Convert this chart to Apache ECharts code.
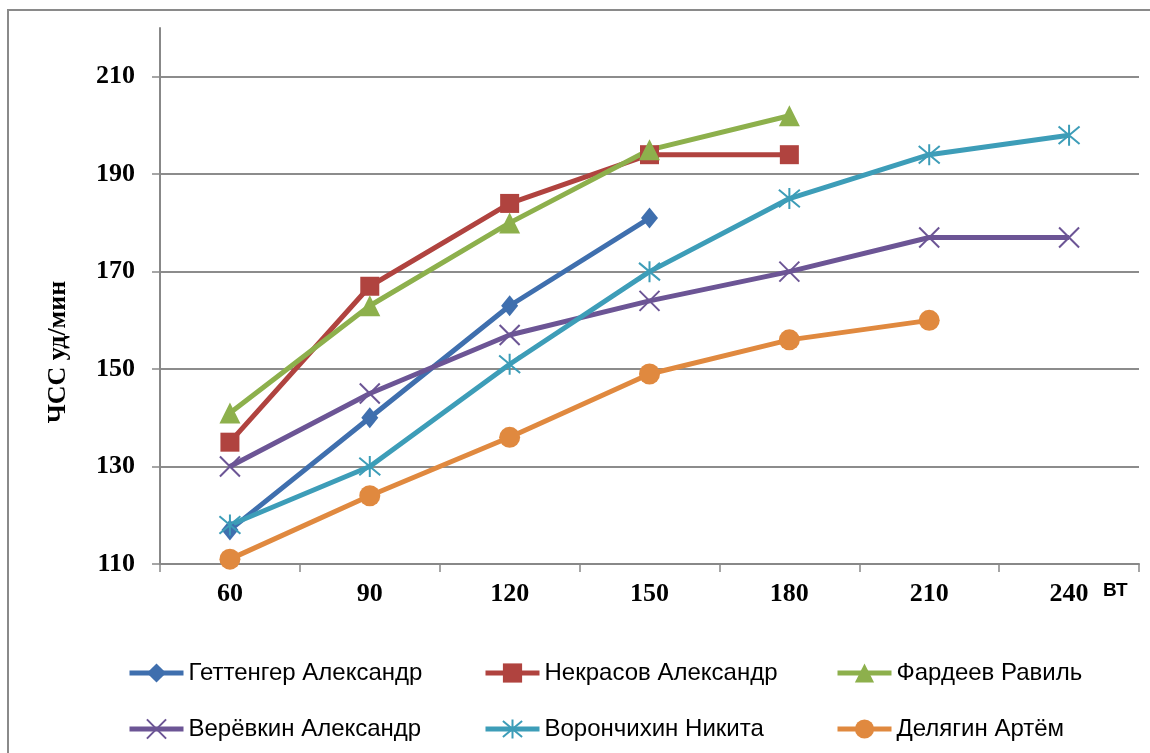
<!DOCTYPE html>
<html>
<head>
<meta charset="utf-8">
<script src="https://cdn.jsdelivr.net/npm/echarts@6/dist/echarts.min.js"></script>
<style>
  html, body { margin: 0; padding: 0; background: #fff; }
  #chart { width: 1150px; height: 753px; }
</style>
</head>
<body>
<div id="chart"></div>
<script>
// Workload steps, W
const categories = ['60', '90', '120', '150', '180', '210', '240'];
// Y tick labels
const yTicks = [110, 130, 150, 170, 190, 210];

// Heart rate (beats/min) per athlete
const gettenger  = [117, 140, 163, 181];
const nekrasov   = [135, 167, 184, 194, 194];
const fardeev    = [141, 163, 180, 195, 202];
const verevkin   = [130, 145, 157, 164, 170, 177, 177];
const voronchikhin = [118, 130, 151, 170, 185, 194, 198];
const delyagin   = [111, 124, 136, 149, 156, 160];

const names = [
  'Геттенгер Александр', 'Некрасов Александр', 'Фардеев Равиль',
  'Верёвкин Александр', 'Ворончихин Никита', 'Делягин Артём'
];
const colors = ['#3F6FAE', '#B0433F', '#8DB04C', '#6C5595', '#3D9DB8', '#E0893F'];
const dataSets = [gettenger, nekrasov, fardeev, verevkin, voronchikhin, delyagin];

const crossPath = 'path://M0,0L10,10M10,0L0,10';
const starPath = 'path://M0,0L10,10M10,0L0,10M5,-1L5,11';
const symbols = ['diamond', 'rect', 'triangle', crossPath, starPath, 'circle'];
const sizes = [[17, 21], 19, 21, 20, 21, 21];

const serif = '"Liberation Serif", "Times New Roman", serif';
const sans = '"Liberation Sans", Arial, sans-serif';

const series = dataSets.map((d, i) => {
  const isStroke = i === 3 || i === 4;
  return {
    name: names[i],
    type: 'line',
    data: d,
    symbol: symbols[i],
    symbolSize: sizes[i],
    showAllSymbol: true,
    lineStyle: { color: colors[i], width: 5 },
    itemStyle: isStroke
      ? { color: 'rgba(0,0,0,0)', borderColor: colors[i], borderWidth: 2 }
      : { color: colors[i], borderWidth: 0 },
    emphasis: { disabled: true },
    animation: false
  };
});

// One legend block per entry, laid out as a 3 x 2 table
const legendCols = [127, 483, 835];
const legendRows = [661, 717];
const legends = names.map((n, i) => ({
  data: [n],
  left: legendCols[i % 3],
  top: legendRows[Math.floor(i / 3)],
  padding: 0,
  itemWidth: 54,
  itemHeight: 24,
  itemGap: 3,
  lineStyle: { width: 5 },
  textStyle: { fontFamily: sans, fontSize: 24, color: '#000' },
  selectedMode: false
}));

const chart = echarts.init(document.getElementById('chart'));
chart.setOption({
  backgroundColor: '#fff',
  animation: false,
  color: colors,
  grid: { left: 160, right: 11, top: 28, bottom: 189 },
  legend: legends,
  xAxis: {
    type: 'category',
    data: categories,
    boundaryGap: true,
    axisLine: { lineStyle: { color: '#888', width: 2 } },
    axisTick: { show: true, length: 8, inside: false, lineStyle: { color: '#888', width: 1.5 } },
    axisLabel: { fontFamily: serif, fontWeight: 'bold', fontSize: 26, color: '#000', margin: 17 },
    splitLine: { show: false }
  },
  yAxis: {
    type: 'value',
    min: 110,
    max: 220,
    interval: 20,
    axisLine: { show: true, lineStyle: { color: '#888', width: 2 } },
    axisTick: { show: true, length: 8, customValues: yTicks, lineStyle: { color: '#888', width: 1.5 } },
    axisLabel: { customValues: yTicks, fontFamily: serif, fontWeight: 'bold', fontSize: 26, color: '#000', margin: 25 },
    splitLine: { show: true, lineStyle: { color: '#8c8c8c', width: 2 } }
  },
  graphic: [
    {
      type: 'rect',
      shape: { x: 8, y: 10, width: 1300, height: 900 },
      style: { fill: 'none', stroke: '#8a8a8a', lineWidth: 2 },
      silent: true, z: -1
    },
    {
      // y-axis title
      type: 'text',
      x: 58,
      y: 352,
      rotation: Math.PI / 2,
      style: {
        text: 'ЧСС уд/мин',
        font: 'bold 26px "Liberation Serif", "Times New Roman", serif',
        fill: '#000',
        align: 'center',
        verticalAlign: 'middle'
      }
    },
    {
      // x-axis unit
      type: 'text',
      left: 1103,
      top: 581,
      style: { text: 'ВТ', font: 'bold 19px "Liberation Sans", Arial, sans-serif', fill: '#000' }
    }
  ],
  series: series
});
</script>
</body>
</html>
